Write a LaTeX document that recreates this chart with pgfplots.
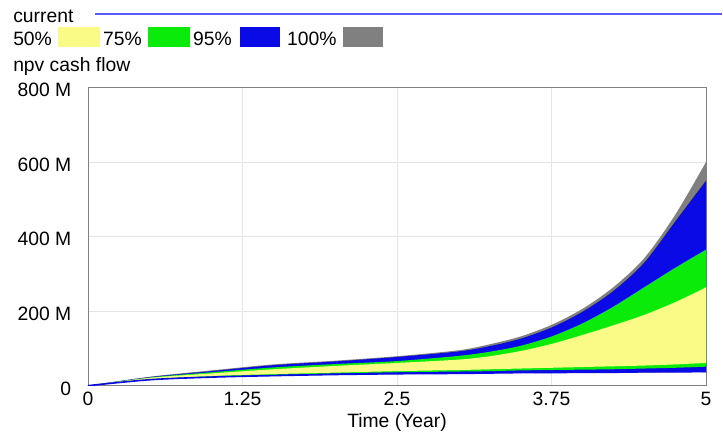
\documentclass[border=0pt]{standalone}
\usepackage{pgfplots}
\pgfplotsset{compat=1.18}
\usepackage{pgfplotstable}
\usepgfplotslibrary{fillbetween}
\usepackage{fontspec}
\setmainfont{Liberation Sans}

\definecolor{band50}{RGB}{250,250,135}
\definecolor{band75}{RGB}{10,235,10}
\definecolor{band95}{RGB}{10,10,230}
\definecolor{band100}{RGB}{128,128,128}
\definecolor{curline}{RGB}{90,90,250}

% sensitivity bands, values in millions
\pgfplotstableread{
t     gl  bl  gnl  yl  yu   gnu  bu   gu
0     0   0   0    0   0    0    0    0
0.5   15  16  16.5 17  21   22   23   24
1     22  23  24   26  33   36   39   41
1.5   26  27  29   31  44   49   55   57
2     29  30  33   35  53   58   65   67
2.5   31  32  36   39  61   66   77   79
3     32  33  38   42  70   80   92   95
3.25  33  34  39   44  79   91   106  111
3.5   34  35  41   46  93   107  126  132
3.75  34  35  42   48  112  132  156  163
4     35  36  43   50  136  167  198  206
4.25  35  36  44   52  162  212  254  264
4.5   35  37  46   54  190  264  330  342
4.75  36  37  48   57  224  316  440  458
5     36  38  51   61  264  365  550  600
}\bands

\begin{document}
\begin{tikzpicture}[font=\fontsize{14.5}{17}\selectfont]
\begin{axis}[
  at={(0,0)}, anchor=south west,
  scale only axis,
  width=464pt, height=224pt,
  xmin=0, xmax=5, ymin=0, ymax=800,
  xtick={0,1.25,2.5,3.75,5},
  xticklabels={0,1.25,2.5,3.75,5},
  ytick={0,200,400,600,800},
  yticklabels={0,200 M,400 M,600 M,800 M},
  major tick length=0pt,
  yticklabel style={xshift=-9pt, yshift=-2pt},
  xticklabel style={yshift=-1pt},
  xlabel={Time (Year)},
  xlabel style={at={(axis description cs:0.5,0)}, anchor=center, yshift=-27.5pt},
  axis line style={gray},
  grid=major,
  major grid style={gray!20},
]
\addplot[draw=none, smooth, name path=gl] table[x=t,y=gl]{\bands};
\addplot[draw=none, smooth, name path=bl] table[x=t,y=bl]{\bands};
\addplot[draw=none, smooth, name path=gnl] table[x=t,y=gnl]{\bands};
\addplot[draw=none, smooth, name path=yl] table[x=t,y=yl]{\bands};
\addplot[draw=none, smooth, name path=yu] table[x=t,y=yu]{\bands};
\addplot[draw=none, smooth, name path=gnu] table[x=t,y=gnu]{\bands};
\addplot[draw=none, smooth, name path=bu] table[x=t,y=bu]{\bands};
\addplot[draw=none, smooth, name path=gu] table[x=t,y=gu]{\bands};
\addplot[band100] fill between[of=gu and gl];
\addplot[band95] fill between[of=bu and bl];
\addplot[band75] fill between[of=gnu and gnl];
\addplot[band50] fill between[of=yu and yl];
% current run
\addplot[band95, smooth, line width=1.2pt] table[x=t,y=bl]{\bands};
\end{axis}
% legend and title, as Vensim lays them out
\node[anchor=west, inner sep=0pt] at (-56.25pt,277pt) {current};
\draw[curline, line width=0.9pt] (5pt,279pt) -- (476.25pt,279pt);
\node[anchor=west, inner sep=0pt] at (-56.25pt,260.5pt) {50\%};
\fill[band50] (-22.5pt,254.25pt) rectangle (9pt,269.25pt);
\node[anchor=west, inner sep=0pt] at (11.25pt,260.5pt) {75\%};
\fill[band75] (45pt,254.25pt) rectangle (76.5pt,269.25pt);
\node[anchor=west, inner sep=0pt] at (78.75pt,260.5pt) {95\%};
\fill[band95] (114pt,254.25pt) rectangle (144pt,269.25pt);
\node[anchor=west, inner sep=0pt] at (149.25pt,260.5pt) {100\%};
\fill[band100] (191.25pt,254.25pt) rectangle (221.25pt,269.25pt);
\node[anchor=west, inner sep=0pt] at (-56.25pt,239.5pt) {npv cash flow};
\path[use as bounding box] (-66pt,-36.75pt) rectangle (476.25pt,289.5pt);
\end{tikzpicture}
\end{document}
